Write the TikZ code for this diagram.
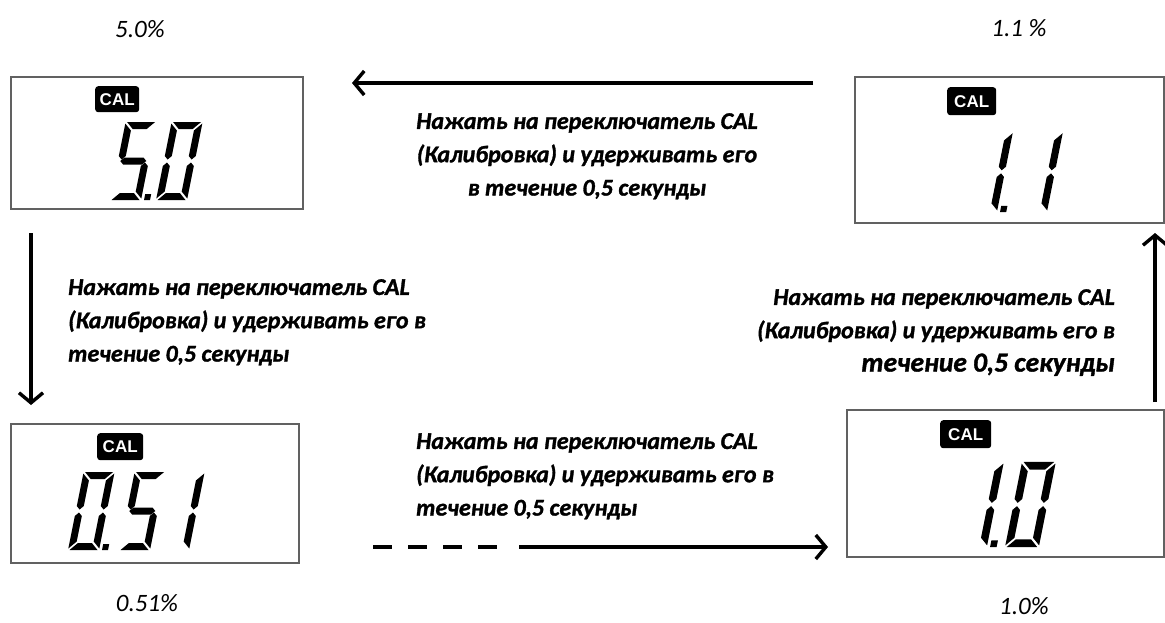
\documentclass[tikz,border=0pt]{standalone}
\usepackage{fontspec}
\setmainfont{Carlito}
\newfontfamily\instrfont{Carlito}[BoldItalicFeatures={FakeBold=1.3}]
\newfontfamily\calfont{Liberation Sans}
\usetikzlibrary{arrows.meta}

\tikzset{
  lcdbox/.style={draw=black!62, line width=1.6pt, fill=white, inner sep=0pt, anchor=north west},
  calbadge/.style={fill=black, rounded corners=3pt, text=white, inner sep=0pt, anchor=north west,
    font=\calfont\bfseries\fontsize{17}{17}\selectfont},
  seg/.style={fill=black},
  instr/.style={font=\instrfont\fontsize{24}{33.3}\selectfont\bfseries\itshape, inner sep=0pt},
  pct/.style={font=\fontsize{25}{25}\selectfont\itshape, inner sep=0pt},
  flow/.style={line width=3.4pt, -{Straight Barb[length=10pt, width=24pt, line width=3.4pt]}},
  flowdash/.style={line width=3.4pt, dash pattern=on 19pt off 16pt},
}

% seven-segment parts (local units, y up, width 31, height 78)
\newcommand\sga{\fill[seg] (1.5,78)--(29.5,78)--(22.5,71)--(8.5,71)--cycle;}
\newcommand\sgb{\fill[seg] (31,76.5)--(31,44)--(27.5,40.5)--(24,44)--(24,69.5)--cycle;}
\newcommand\sgc{\fill[seg] (31,1.5)--(31,34)--(27.5,37.5)--(24,34)--(24,8.5)--cycle;}
\newcommand\sgd{\fill[seg] (1.5,0)--(29.5,0)--(22.5,7)--(8.5,7)--cycle;}
\newcommand\sge{\fill[seg] (0,1.5)--(0,34)--(3.5,37.5)--(7,34)--(7,8.5)--cycle;}
\newcommand\sgf{\fill[seg] (0,76.5)--(0,44)--(3.5,40.5)--(7,44)--(7,69.5)--cycle;}
\newcommand\sgg{\fill[seg] (2.5,39)--(6,42.5)--(25,42.5)--(28.5,39)--(25,35.5)--(6,35.5)--cycle;}
\newcommand\sgdp{\fill[seg] (34,0) rectangle (40,6);}
\newcommand\lcddigit[4]{%
  \begin{scope}[shift={(#1,#2)}, x=1pt, y=1pt, scale=#3, xslant=0.2]
    \foreach \s in {#4} {\csname sg\s\endcsname}
  \end{scope}}

\begin{document}
\begin{tikzpicture}[x=1pt, y=-1pt]
\useasboundingbox (0,0) rectangle (1165,622);

% displays
\node[lcdbox, minimum width=292pt, minimum height=132pt] (d1) at (10,76) {};
\node[lcdbox, minimum width=309pt, minimum height=146pt] (d2) at (854,76) {};
\node[lcdbox, minimum width=288pt, minimum height=139pt] (d3) at (10,423) {};
\node[lcdbox, minimum width=317pt, minimum height=147pt] (d4) at (846,409) {};

% CAL badges
\node[calbadge, minimum width=44pt, minimum height=26pt] (c1) at (95,86) {CAL};
\node[calbadge, minimum width=49pt, minimum height=28pt] (c2) at (947,87) {CAL};
\node[calbadge, minimum width=46pt, minimum height=27pt] (c3) at (97,433) {CAL};
\node[calbadge, minimum width=51pt, minimum height=28pt] (c4) at (940,420) {CAL};

% digits
\lcddigit{110}{200}{1}{a,f,g,c,d,dp}
\lcddigit{156}{200}{1}{a,b,c,d,e,f}
\lcddigit{965}{212}{1.03}{b,c,dp}
\lcddigit{1015}{212}{1.03}{b,c}
\lcddigit{68}{550}{1}{a,b,c,d,e,f,dp}
\lcddigit{119}{550}{1}{a,f,g,c,d}
\lcddigit{158}{550}{1}{b,c}
\lcddigit{953}{547}{1.09}{b,c,dp}
\lcddigit{1005}{547}{1.09}{a,b,c,d,e,f}

% percentage labels
\node[pct] (p1) at (140,29) {5.0\%};
\node[pct] (p2) at (1019,28) {1.1 \%};
\node[pct] (p3) at (147,603) {0.51\%};
\node[pct] (p4) at (1024,606) {1.0\%};

% instructions
\node[instr, align=center, anchor=north] (ttop) at (587,113)
  {Нажать на переключатель CAL\\(Калибровка) и удерживать его\\в течение 0,5 секунды};
\node[instr, align=left, anchor=north west] (tleft) at (68,279)
  {Нажать на переключатель CAL\\(Калибровка) и удерживать его в\\течение 0,5 секунды};
\node[instr, align=right, anchor=north east] (tright) at (1115,289)
  {Нажать на переключатель CAL\\(Калибровка) и удерживать его в\\{\fontsize{27.5}{33}\selectfont течение 0,5 секунды}};
\node[instr, align=left, anchor=north west] (tbot) at (416,433)
  {Нажать на переключатель CAL\\(Калибровка) и удерживать его в\\течение 0,5 секунды};

% connectors
\coordinate (a1s) at (813,83);  \coordinate (a1e) at (352,83);
\coordinate (a2s) at (31,233);  \coordinate (a2e) at (31,405);
\coordinate (a3s) at (1155,402); \coordinate (a3e) at (1155,233);
\coordinate (a4d) at (373,547); \coordinate (a4m) at (498,547);
\coordinate (a4s) at (519,547); \coordinate (a4e) at (828,547);
\draw[flow] (a1s) -- (a1e);
\draw[flow] (a2s) -- (a2e);
\draw[flow] (a3s) -- (a3e);
\draw[flowdash] (a4d) -- (a4m);
\draw[flow] (a4s) -- (a4e);
\end{tikzpicture}
\end{document}
